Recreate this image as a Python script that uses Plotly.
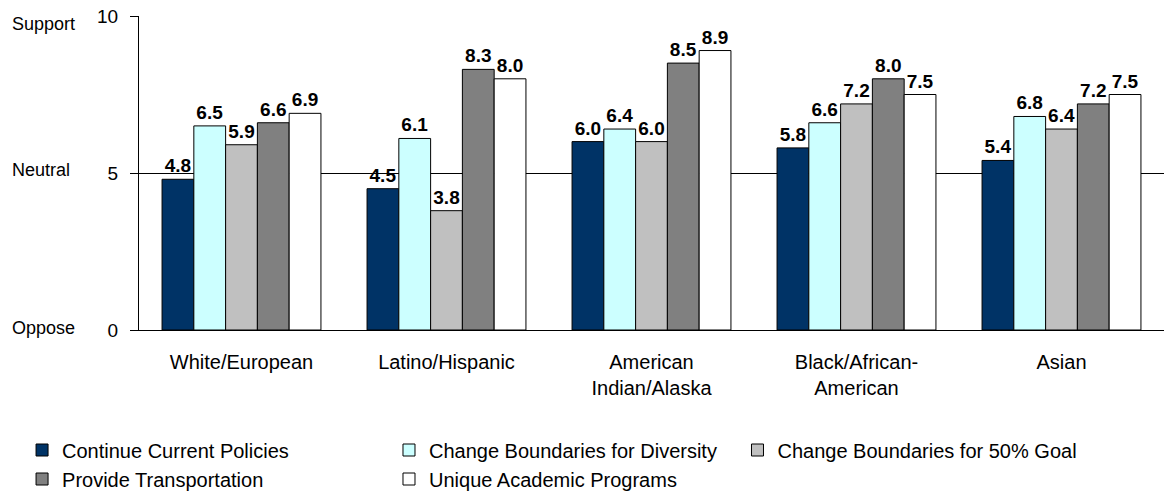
import plotly.graph_objects as go

# Survey groups (x categories) and mean rating per option (0 = oppose, 10 = support)
groups = ["White/European", "Latino/Hispanic", "American<br>Indian/Alaska",
          "Black/African-<br>American", "Asian"]
continue_current = [4.8, 4.5, 6.0, 5.8, 5.4]
boundaries_diversity = [6.5, 6.1, 6.4, 6.6, 6.8]
boundaries_50_goal = [5.9, 3.8, 6.0, 7.2, 6.4]
transportation = [6.6, 8.3, 8.5, 8.0, 7.2]
academic_programs = [6.9, 8.0, 8.9, 7.5, 7.5]

series = [
    ("Continue Current Policies", continue_current, "#003366", "legend"),
    ("Change Boundaries for Diversity", boundaries_diversity, "#CCFFFF", "legend2"),
    ("Change Boundaries for 50% Goal", boundaries_50_goal, "#C0C0C0", "legend3"),
    ("Provide Transportation", transportation, "#808080", "legend"),
    ("Unique Academic Programs", academic_programs, "#FFFFFF", "legend2"),
]

y_ticks = [0, 5, 10]
scale_labels = ["Oppose", "Neutral", "Support"]

FONT = "Liberation Sans, Arial, sans-serif"

fig = go.Figure()
for name, vals, color, leg in series:
    fig.add_trace(go.Bar(
        name=name, x=groups, y=vals,
        marker=dict(color=color, line=dict(color="#000000", width=1)),
        text=[f"{v:.1f}" for v in vals],
        textposition="outside",
        textfont=dict(family=FONT, size=19, color="#000000", weight="bold"),
        constraintext="none",
        cliponaxis=False,
        legend=leg,
    ))

legend_common = dict(
    orientation="v", yanchor="top", xanchor="left",
    yref="container", y=0.1232,
    font=dict(family=FONT, size=20, color="#000000"),
    bgcolor="rgba(0,0,0,0)", itemclick=False, itemdoubleclick=False,
    tracegroupgap=0,
)

fig.update_layout(
    width=1167, height=491,
    margin=dict(l=139, r=3, t=16, b=161, autoexpand=False),
    paper_bgcolor="#FFFFFF", plot_bgcolor="#FFFFFF",
    barmode="group", bargap=0.225, bargroupgap=0,
    font=dict(family=FONT, size=20, color="#000000"),
    showlegend=True,
    legend=dict(x=-0.1141, **legend_common),
    legend2=dict(x=0.2439, **legend_common),
    legend3=dict(x=0.5839, **legend_common),
    xaxis=dict(
        showline=True, linecolor="#000000", linewidth=1,
        ticks="", showgrid=False, ticklabelstandoff=14, automargin=False,
        tickfont=dict(family=FONT, size=20, color="#000000"),
    ),
    yaxis=dict(
        range=[0, 10], tickvals=y_ticks,
        showline=True, linecolor="#000000", linewidth=1,
        ticks="outside", ticklen=8, tickcolor="#000000",
        showgrid=True, gridcolor="#000000", gridwidth=1,
        zeroline=False, ticklabelstandoff=8, automargin=False,
        tickfont=dict(family=FONT, size=19, color="#000000"),
    ),
)

shifts = [2, 3, -8]
for val, lab, sh in zip(y_ticks, scale_labels, shifts):
    fig.add_annotation(
        x=-0.1259, xref="paper", xanchor="left",
        y=val, yref="y", yanchor="middle", yshift=sh,
        text=lab, showarrow=False,
        font=dict(family=FONT, size=18, color="#000000"),
    )

fig.write_html("out.html")
